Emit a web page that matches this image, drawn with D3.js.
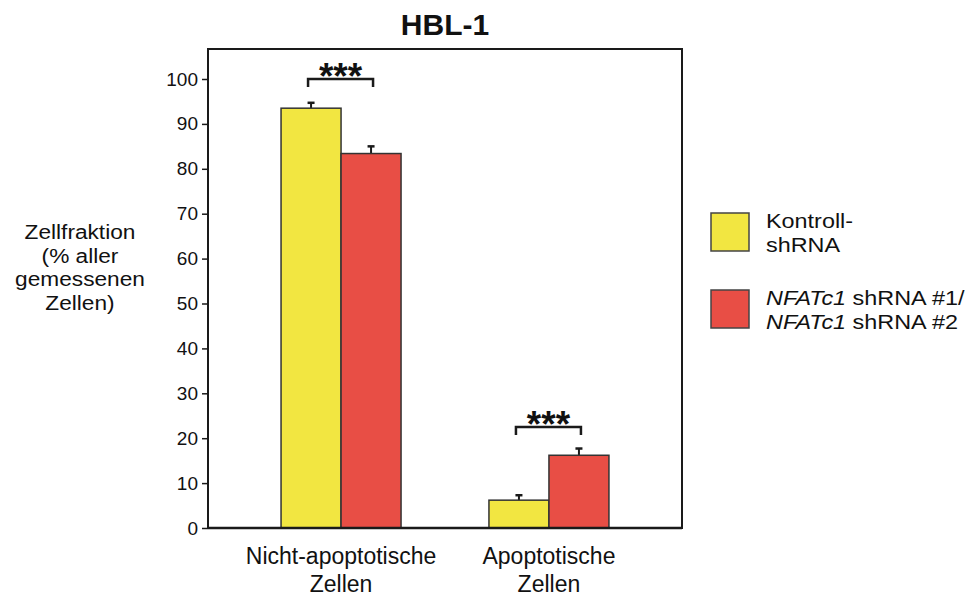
<!DOCTYPE html>
<html><head><meta charset="utf-8">
<script src="https://cdn.jsdelivr.net/npm/d3@7"></script>
<style>body{margin:0;background:#fff}svg{font-family:"Liberation Sans",Arial,sans-serif}</style>
</head><body>
<svg id="c" width="977" height="597"></svg>
<script>
const categories = [["Nicht-apoptotische","Zellen"],["Apoptotische","Zellen"]];
const categoryKeys = ["nicht","apo"];
const seriesNames = ["ctrl","nfat"];
const seriesColors = ["#F2E641","#E84E45"];
const ctrlValues = [93.5, 6.2];
const ctrlErrors = [1.2, 1.1];
const nfatValues = [83.4, 16.2];
const nfatErrors = [1.6, 1.5];
const yTicks = [0,10,20,30,40,50,60,70,80,90,100];
const sigBrackets = [{cat:"nicht", y:100, label:"***"},{cat:"apo", y:22.5, label:"***"}];
const yTitle = ["Zellfraktion","(% aller","gemessenen","Zellen)"];
const legendLabels = [["Kontroll-","shRNA"],["NFATc1| shRNA #1/","NFATc1| shRNA #2"]];
const title = "HBL-1";

const svg = d3.select("#c");
const L=208, R=682, T=49, B=528;
const y = d3.scaleLinear().domain([0,100]).range([B, B-449]);
const x = d3.scalePoint().domain(categoryKeys).range([L,R]).padding(0.64);
const xs = d3.scaleBand().domain(seriesNames).range([-60,60]).padding(0);

// frame
svg.append("rect").attr("x",L).attr("y",T).attr("width",R-L).attr("height",B-T)
  .attr("fill","none").attr("stroke","#1a1a1a").attr("stroke-width",2);

const data = [];
categoryKeys.forEach((c,i)=>{
  data.push({c, s:"ctrl", v:ctrlValues[i], e:ctrlErrors[i], col:seriesColors[0]});
  data.push({c, s:"nfat", v:nfatValues[i], e:nfatErrors[i], col:seriesColors[1]});
});
const g = svg.append("g");
data.forEach(d=>{
  const cx = x(d.c)+xs(d.s)+xs.bandwidth()/2;
  g.append("line").attr("x1",cx).attr("x2",cx).attr("y1",y(d.v)).attr("y2",y(d.v+d.e))
    .attr("stroke","#1a1a1a").attr("stroke-width",2);
  g.append("line").attr("x1",cx-3.5).attr("x2",cx+3.5).attr("y1",y(d.v+d.e)).attr("y2",y(d.v+d.e))
    .attr("stroke","#1a1a1a").attr("stroke-width",2.5);
});
g.selectAll("rect.bar").data(data).join("rect").attr("class","bar")
  .attr("x",d=>x(d.c)+xs(d.s)).attr("width",xs.bandwidth())
  .attr("y",d=>y(d.v)).attr("height",d=>y(0)-y(d.v))
  .attr("fill",d=>d.col).attr("stroke","#333").attr("stroke-width",1.5);

svg.append("line").attr("x1",L).attr("x2",R).attr("y1",B).attr("y2",B).attr("stroke","#1a1a1a").attr("stroke-width",2.5);

// y axis
const ya = svg.append("g").attr("transform",`translate(${L},0)`)
  .call(d3.axisLeft(y).tickValues(yTicks).tickSize(6).tickPadding(4));
ya.select(".domain").remove();
ya.selectAll("line").attr("stroke","#1a1a1a").attr("stroke-width",1.5);
ya.selectAll("text").attr("font-size",19).attr("fill","#111").attr("font-family","Liberation Sans, Arial, sans-serif");

// x labels
categoryKeys.forEach((c,i)=>{
  categories[i].forEach((t,j)=>{
    svg.append("text").attr("x",x(c)).attr("y",564+j*28).attr("text-anchor","middle")
      .attr("font-size",23).attr("fill","#111").text(t);
  });
});

// significance brackets
sigBrackets.forEach(b=>{
  const x1 = x(b.cat)+xs("ctrl")+xs.bandwidth()/2-3;
  const x2 = x(b.cat)+xs("nfat")+xs.bandwidth()/2+2;
  const yy = y(b.y);
  svg.append("path").attr("d",`M${x1},${yy+8}V${yy}H${x2}V${yy+8}`)
    .attr("fill","none").attr("stroke","#1a1a1a").attr("stroke-width",2.5);
  svg.append("text").attr("x",(x1+x2)/2).attr("y",yy+10).attr("text-anchor","middle")
    .attr("font-size",37).attr("font-weight","bold").attr("fill","#111").text(b.label);
});

// title
svg.append("text").attr("x",(L+R)/2).attr("y",35).attr("text-anchor","middle")
  .attr("font-size",30).attr("font-weight","bold").attr("fill","#111").text(title);

// y title
yTitle.forEach((t,i)=>{
  svg.append("text").attr("transform",`translate(80,${239+i*23.5}) scale(1.08,1)`)
    .attr("text-anchor","middle")
    .attr("font-size",21).attr("fill","#111").text(t);
});

// legend
const leg = svg.append("g");
const boxY = [213, 290];
legendLabels.forEach((lines,i)=>{
  leg.append("rect").attr("x",711).attr("y",boxY[i]).attr("width",38).attr("height",38)
    .attr("fill",seriesColors[i]).attr("stroke","#444").attr("stroke-width",1.5);
  lines.forEach((t,j)=>{
    const tx = leg.append("text")
      .attr("transform",`translate(766,${boxY[i]+15+j*23.5}) scale(1.17,1)`)
      .attr("font-size",20).attr("fill","#111");
    const parts = t.split("|");
    if(parts.length>1){
      tx.append("tspan").attr("font-style","italic").text(parts[0]);
      tx.append("tspan").text(parts[1]);
    } else tx.text(t);
  });
});
</script>
</body></html>
